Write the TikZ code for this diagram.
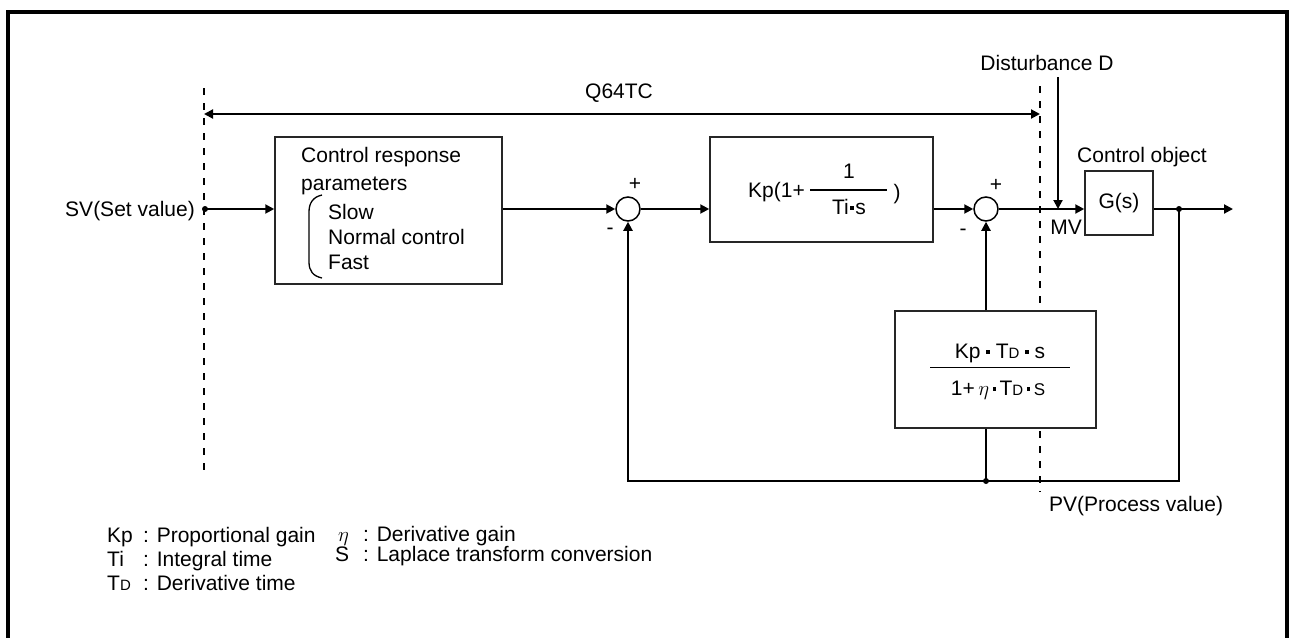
\documentclass[tikz,border=0pt]{standalone}
\usepackage{fontspec}
\setmainfont{Liberation Sans}
\usetikzlibrary{arrows.meta}
\newcommand{\sqd}{\raisebox{0.2em}{\rule{3.5pt}{3.5pt}}}
\newcommand{\tdx}{T{\fontsize{15}{15}\selectfont D}}
\begin{document}
\begin{tikzpicture}[x=1pt,y=-1pt,
 every node/.style={font=\fontsize{21}{25}\selectfont, inner sep=0pt},
 blk/.style={draw=black!85, fill=white, line width=1.5pt, rectangle},
 sumn/.style={draw, fill=white, circle, line width=1.5pt, minimum size=24pt},
 conn/.style={line width=2pt},
 arr/.style={conn, -{Triangle[length=9pt,width=9pt]}},
 dsh/.style={line width=2pt, dash pattern=on 7pt off 8pt},
 dotn/.style={circle, fill, minimum size=6pt}]
\useasboundingbox (0,0) rectangle (1290,637);
% frame
\draw[line width=4pt] (8,640) -- (8,11.5) -- (1287,11.5) -- (1287,640);

% dashed boundaries and Q64TC
\coordinate (dl1) at (204,88); \coordinate (dl2) at (204,472);
\coordinate (dr1) at (1040,86); \coordinate (dr2) at (1040,492);
\draw[dsh] (dl1) -- (dl2);
\draw[dsh] (dr1) -- (dr2);
\coordinate (ql) at (204,114); \coordinate (qr) at (1040,114);
\draw[conn, {Triangle[length=9pt,width=9pt]}-{Triangle[length=9pt,width=9pt]}] (ql) -- (qr);
\node[anchor=base] (q64) at (619,98) {Q64TC};

% blocks
\node[blk, minimum width=227pt, minimum height=147pt] (crp) at (388.5,210.5) {};
\node[anchor=base west] (crp1) at (301,162) {Control response};
\node[anchor=base west] (crp2) at (301,190) {parameters};
\node[anchor=base west] (crp3) at (328,219) {Slow};
\node[anchor=base west] (crp4) at (328,244) {Normal control};
\node[anchor=base west] (crp5) at (328,269) {Fast};
\draw[line width=1.3pt] (322,195) .. controls (313,197) and (309,203) .. (309,212) -- (309,262) .. controls (309,271) and (313,276) .. (322,278);

\node[sumn] (s1) at (628,209) {};
\node (p1) at (635,184) {+};
\node (m1) at (610,231) {-};

\node[blk, minimum width=223pt, minimum height=105pt] (pi) at (821.5,189.5) {};
\node[anchor=base west] (pik) at (748,197) {Kp(1+};
\draw[line width=1.8pt] (810,190) -- (887,190);
\node[anchor=base] (pin) at (849,178) {1};
\node[anchor=base] (pid) at (849,214) {Ti\kern1.5pt\sqd\kern1.5pt s};
\node[anchor=base] (pic) at (897,199) {)};

\node[sumn] (s2) at (986,209) {};
\node (p2) at (996,185) {+};
\node (m2) at (963,232) {-};

\node[blk, minimum width=68pt, minimum height=64pt] (g) at (1119,203) {G(s)};
\node[anchor=base] (cot) at (1142,162) {Control object};
\node[anchor=base] (dist) at (1047,70) {Disturbance D};
\node[anchor=base] (mv) at (1066,234) {MV};

\node[blk, minimum width=201pt, minimum height=117pt] (der) at (995.5,369.5) {};
\node[anchor=base] (dern) at (1000,358) {Kp \sqd\ \tdx\ \sqd\ s};
\draw[line width=1.8pt] (930,367.5) -- (1070,367.5);
\node[anchor=base] (derd) at (998,395) {1+\,$\eta$\,\sqd\,\tdx\,\sqd\,{\fontsize{17}{17}\selectfont S}};

\node[anchor=base west] (pv) at (1049,511) {PV(Process value)};

% signal flow
\node[anchor=base east] (svt) at (195,216) {SV(Set value)};
\node[dotn] (svd) at (205,209) {};
\draw[arr] (svd.center) -- (crp.west |- svd);
\draw[arr] (crp.east |- s1) -- (s1.west);
\draw[arr] (s1.east) -- (pi.west |- s1);
\draw[arr] (pi.east |- s2) -- (s2.west);
\draw[arr] (s2.east) -- (g.west |- s2);
\coordinate (dtop) at (1058,77);
\coordinate (mvpt) at (1058,209);
\draw[arr] (dtop) -- (mvpt);
\node[dotn] (od) at (1179,209) {};
\coordinate (oend) at (1233,209);
\draw[conn] (g.east |- od) -- (od.center);
\draw[arr] (od.center) -- (oend);
\node[dotn] (bd) at (986,481) {};
\coordinate (bl) at (628,481);
\draw[arr] (od.center) -- (od.center |- bd) -- (bl) -- (s1.south);
\draw[conn] (bd.center) -- (bd.center |- der.south);
\draw[arr] (der.north -| s2) -- (s2.south);

% legend
\node[anchor=base west] (lk) at (107,542) {Kp};
\node[anchor=base west] (lkt) at (143,542) {: Proportional gain};
\node[anchor=base west] (li) at (107,566) {Ti};
\node[anchor=base west] (lit) at (143,566) {: Integral time};
\node[anchor=base west] (ld) at (107,590) {\tdx};
\node[anchor=base west] (ldt) at (143,590) {: Derivative time};
\node[anchor=base west] (le) at (338,541) {$\eta$};
\node[anchor=base west] (let) at (363,541) {: Derivative gain};
\node[anchor=base west] (ls) at (335,561) {S};
\node[anchor=base west] (lst) at (363,561) {: Laplace transform conversion};
\end{tikzpicture}
\end{document}
